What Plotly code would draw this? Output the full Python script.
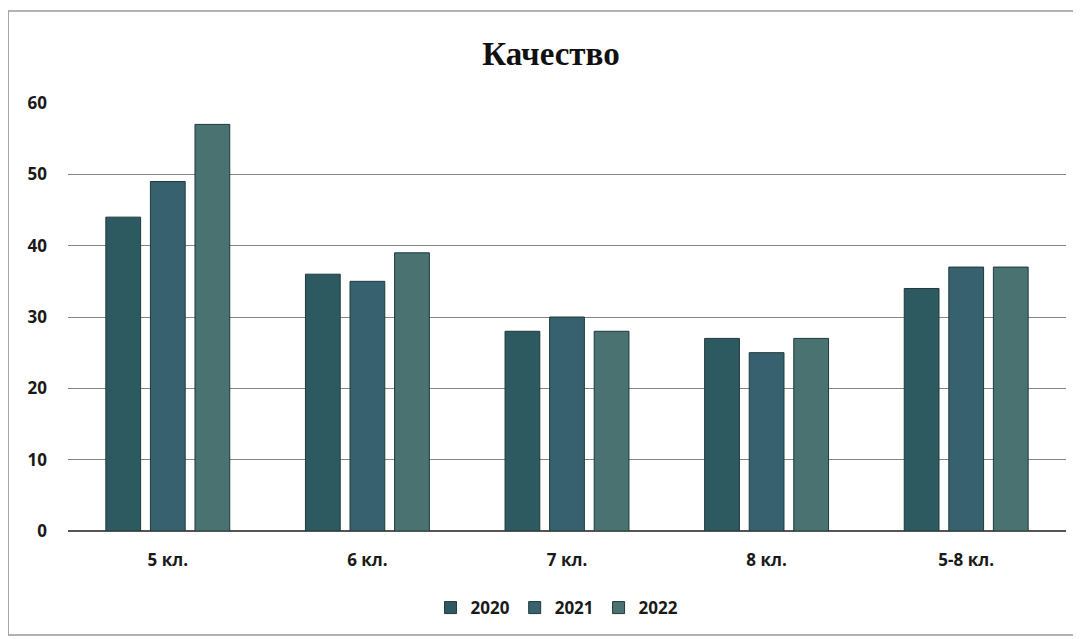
import plotly.graph_objects as go

categories = ["5 кл.", "6 кл.", "7 кл.", "8 кл.", "5-8 кл."]
series_names = ["2020", "2021", "2022"]
values_2020 = [44, 36, 28, 27, 34]
values_2021 = [49, 35, 30, 25, 37]
values_2022 = [57, 39, 28, 27, 37]
colors = ["#2d5a60", "#37616e", "#4a7270"]
y_ticks = [0, 10, 20, 30, 40, 50, 60]

fig = go.Figure()
for name, vals, col in zip(series_names, [values_2020, values_2021, values_2022], colors):
    fig.add_trace(go.Bar(
        x=categories, y=vals, name=name,
        marker=dict(color=col, line=dict(color="#1f3a3a", width=1)),
    ))

fig.update_layout(
    width=1073, height=631,
    paper_bgcolor="white", plot_bgcolor="white",
    margin=dict(l=60, r=15, t=95, b=108),
    barmode="group", bargap=0.33, bargroupgap=0.22,
    title=dict(text="<b>Качество</b>", x=(551 - 8) / 1073, xanchor="center",
               y=1 - (53 - 8) / 631, yanchor="middle",
               font=dict(family="Liberation Serif", size=33, color="#111111")),
    font=dict(family="Open Sans", size=17, color="#1a1a1a"),
    showlegend=True,
    legend=dict(orientation="h", x=0.49, xanchor="center", y=-0.18, yanchor="middle",
                font=dict(family="Open Sans", size=17, color="#1a1a1a", weight="bold"),
                itemwidth=30, traceorder="normal"),
    xaxis=dict(showgrid=False, showline=False, ticks="", ticklabelstandoff=17,
               tickfont=dict(family="Open Sans", size=17, color="#1a1a1a", weight="bold")),
    yaxis=dict(range=[0, 60], tickvals=y_ticks, showgrid=True, gridcolor="#858585", gridwidth=1,
               zeroline=True, zerolinecolor="#555555", zerolinewidth=1.5, showline=False,
               ticks="", ticklabelstandoff=20,
               tickfont=dict(family="Open Sans", size=17, color="#1a1a1a", weight="bold")),
)

fig.add_shape(type="rect", xref="paper", yref="paper",
              x0=-0.060, x1=1.011, y0=-0.243, y1=1.215,
              line=dict(color="#9a9a9a", width=1.5), fillcolor="rgba(0,0,0,0)", layer="below")

fig.write_html("out.html")
